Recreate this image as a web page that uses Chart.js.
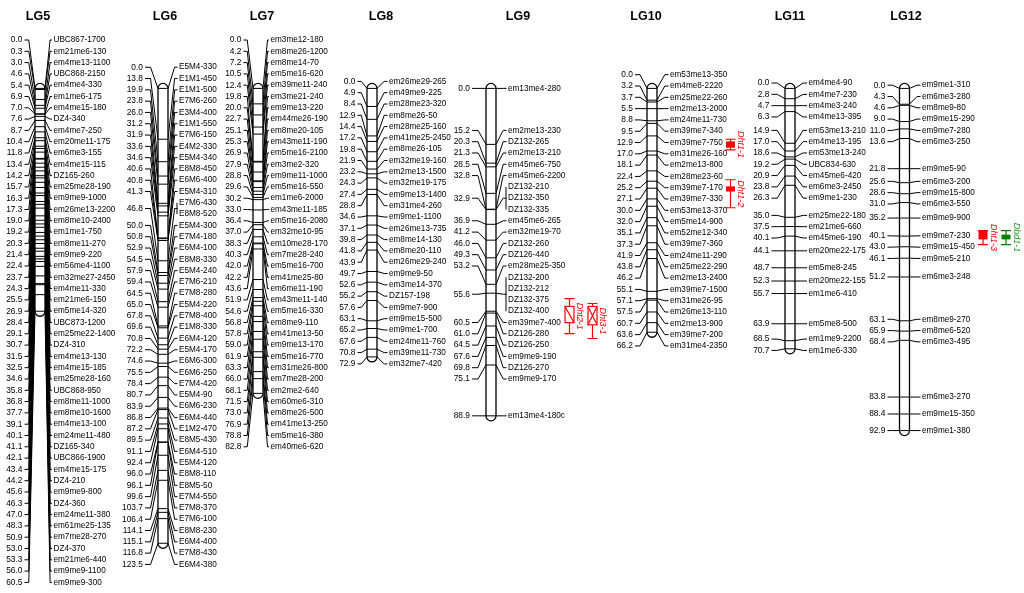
<!DOCTYPE html>
<html><head><meta charset="utf-8">
<script src="https://cdn.jsdelivr.net/npm/chart.js@4.4.1/dist/chart.umd.min.js"></script>
<style>html,body{margin:0;padding:0;background:#fff;}#wrap{width:1024px;height:593px;position:relative;}</style>
</head><body><div id="wrap"><canvas id="c"></canvas></div>
<script>
// ---------------- DATA ----------------
const groupNames = ['LG5','LG6','LG7','LG8','LG9','LG10','LG11','LG12'];

const lg5Pos = [0.0,0.3,3.0,4.6,5.4,6.9,7.0,7.6,8.7,10.4,11.8,13.4,14.2,15.7,16.3,17.3,19.0,19.2,20.3,21.4,22.4,23.7,24.3,25.5,26.9,28.4,29.1,30.7,31.5,32.5,34.6,35.8,36.8,37.7,39.1,40.1,41.1,42.1,43.4,44.2,45.6,46.3,47.0,48.3,50.9,53.0,53.3,56.0,60.5];
const lg5Names = ['UBC867-1700','em21me6-130','em4me13-1100','UBC868-2150','em4me4-330','em1me6-175','em4me15-180','DZ4-340','em4me7-250','em20me11-175','em6me3-155','em4me15-115','DZ165-260','em25me28-190','em9me9-1000','em26me13-2200','em8me10-2400','em1me1-750','em8me11-270','em9me9-220','em56me4-1100','em32me27-2450','em4me11-330','em21me6-150','em5me14-320','UBC873-1200','em25me22-1400','DZ4-310','em4me13-130','em4me15-185','em25me28-160','UBC868-950','em8me11-1000','em8me10-1600','em4me13-100','em24me11-480','DZ165-340','UBC866-1900','em4me15-175','DZ4-210','em9me9-800','DZ4-360','em24me11-380','em61me25-135','em7me28-270','DZ4-370','em21me6-440','em9me9-1100','em9me9-300'];

const lg6Pos = [0.0,13.8,19.9,23.8,26.0,31.2,31.9,33.6,34.6,40.6,40.8,41.3,46.8,46.8,50.0,50.8,52.9,54.5,57.9,59.4,64.5,65.0,67.8,69.6,70.8,72.2,74.6,75.5,78.4,80.7,83.9,86.8,87.2,89.5,91.1,92.4,96.0,96.1,99.6,103.7,106.4,114.1,115.1,116.8,123.5];
const lg6Names = ['E5M4-330','E1M1-450','E1M1-500','E7M6-260','E3M4-400','E1M1-550','E7M6-150','E4M2-330','E5M4-340','E8M8-450','E6M6-400','E5M4-310','E7M6-430','E8M8-520','E5M4-300','E7M4-180','E6M4-100','E8M8-330','E5M4-240','E7M6-210','E7M8-280','E5M4-220','E7M8-400','E1M8-330','E6M4-120','E5M4-170','E6M6-300','E6M6-250','E7M4-420','E5M4-90','E6M6-230','E6M4-440','E1M2-470','E8M5-430','E6M4-510','E5M4-120','E8M8-110','E8M5-50','E7M4-550','E7M8-370','E7M6-100','E8M8-230','E6M4-400','E7M8-430','E6M4-380'];

const lg7Pos = [0.0,4.2,7.2,10.5,12.4,19.8,20.0,22.7,25.1,25.3,26.9,27.9,28.8,29.6,30.2,33.0,36.4,37.0,38.3,40.3,42.0,42.2,43.6,51.9,54.6,56.8,57.8,59.0,61.9,63.3,66.0,68.1,71.5,73.0,76.9,78.8,82.8];
const lg7Names = ['em3me12-180','em8me26-1200','em8me14-70','em5me16-620','em39me11-240','em3me21-240','em9me13-220','em44me26-190','em8me20-105','em43me11-190','em5me16-2100','em3me2-320','em9me11-1000','em5me16-550','em1me6-2000','em43me11-185','em5me16-2080','em32me10-95','em10me28-170','em7me28-240','em5me16-700','em41me25-80','em6me11-190','em43me11-140','em5me16-330','em8me9-110','em41me13-50','em9me13-170','em5me16-770','em31me26-800','em7me28-200','em2me2-640','em60me6-310','em8me26-500','em41me13-250','em5me16-380','em40me6-620'];

const lg8Pos = [0.0,4.9,8.4,12.9,14.4,17.2,19.8,21.9,23.2,24.3,27.4,28.8,34.6,37.1,39.8,41.8,43.9,49.7,52.6,55.2,57.6,63.1,65.2,67.6,70.8,72.9];
const lg8Names = ['em26me29-265','em49me9-225','em28me23-320','em8me26-50','em28me25-160','em41me25-2450','em8me26-105','em32me19-160','em2me13-1500','em32me19-175','em9me13-1400','em31me4-260','em9me1-1100','em26me13-735','em8me14-130','em8me20-110','em26me29-240','em9me9-50','em3me14-370','DZ157-198','em9me7-900','em9me15-500','em9me1-700','em24me11-760','em39me11-730','em32me7-420'];

const lg9Pos = [0.0,15.2,20.3,21.3,28.5,32.8,32.9,32.9,32.9,36.9,41.2,46.0,49.3,53.2,55.6,55.6,55.6,55.6,60.5,61.0,64.5,67.6,69.8,75.1,88.9];
const lg9Names = ['em13me4-280','em2me13-230','DZ132-265','em2me13-210','em45me6-750','em45me6-2200','DZ132-210','DZ132-350','DZ132-335','em45me6-265','em32me19-70','DZ132-260','DZ126-440','em28me25-350','DZ132-200','DZ132-212','DZ132-375','DZ132-400','em39me7-400','DZ126-280','DZ126-250','em9me9-190','DZ126-270','em9me9-170','em13me4-180c'];

const lg10Pos = [0.0,3.2,3.7,5.5,8.8,9.5,12.9,17.0,18.1,22.4,25.2,27.1,30.0,32.0,35.1,37.3,41.9,43.8,46.2,55.1,57.1,57.5,60.7,63.6,66.2];
const lg10Names = ['em53me13-350','em4me8-2220','em25me22-260','em2me13-2000','em24me11-730','em39me7-340','em39me7-750','em31me26-160','em2me13-800','em28me23-60','em39me7-170','em39me7-330','em53me13-370','em5me14-900','em52me12-340','em39me7-360','em24me11-290','em25me22-290','em2me13-2400','em39me7-1500','em31me26-95','em26me13-110','em2me13-900','em39me7-200','em31me4-2350'];

const lg11Pos = [0.0,2.8,4.7,6.3,14.9,17.0,18.6,19.2,20.9,23.8,26.3,35.0,37.5,40.1,44.1,48.7,52.3,55.7,63.9,68.5,70.7];
const lg11Names = ['em4me4-90','em4me7-230','em4me3-240','em4me13-395','em53me13-210','em4me13-195','em53me13-240','UBC834-630','em45me6-420','em6me3-2450','em9me1-230','em25me22-180','em21me6-660','em45me6-190','em20me22-175','em5me8-245','em20me22-155','em1me6-410','em5me8-500','em1me9-2200','em1me6-330'];

const lg12Pos = [0.0,4.3,4.6,9.0,11.0,13.6,21.8,25.6,28.6,31.0,35.2,40.1,43.0,46.1,51.2,63.1,65.9,68.4,83.8,88.4,92.9];
const lg12Names = ['em9me1-310','em6me3-280','em8me9-80','em9me15-290','em9me7-280','em6me3-250','em9me5-90','em6me3-200','em9me15-800','em6me3-550','em9me9-900','em9me7-230','em9me15-450','em9me5-210','em6me3-248','em8me9-270','em8me6-520','em6me3-495','em6me3-270','em9me15-350','em9me1-380'];

const allPos = [lg5Pos,lg6Pos,lg7Pos,lg8Pos,lg9Pos,lg10Pos,lg11Pos,lg12Pos];
const allNames = [lg5Names,lg6Names,lg7Names,lg8Names,lg9Names,lg10Names,lg11Names,lg12Names];

// QTL intervals (cM)
const qtlNames   = ['Dht2-1','Dht3-1','Dht1-1','Dht1-2','Dht1-3','Dbd1-1'];
const qtlGroup   = ['LG9','LG9','LG10','LG10','LG12','LG12'];
const qtlLo      = [57.1, 58.4, 13.8, 24.8, 38.6, 38.6];
const qtlHi      = [66.6, 67.9, 16.7, 32.4, 42.4, 42.4];
const qtlBoxLo   = [59.2, 59.2, 14.4, 26.6, 38.6, 39.7];
const qtlBoxHi   = [63.6, 64.2, 16.1, 28.0, 41.0, 41.0];

// ---------------- LAYOUT / STYLE ----------------
const barX     = [40, 163, 258, 372, 491, 652, 790, 904.5];
const titleX   = [38, 165, 262, 381, 518, 646, 790, 906];
const leftGap  = [12.5, 15, 11.5, 11.5, 16, 14, 15.5, 14];
const rightGap = [8.5, 11, 7.5, 12, 12, 13, 13.5, 12.5];
const qtlColumn = [0, 1, 0, 0, 0, 1];
const qtlColOffset = [78.5, 101.5];
const qtlStyle = ['hatch','cross','solid','solid','solid','solid'];
const qtlColor = ['#ff0000','#ff0000','#ff0000','#ff0000','#ff0000','#008000'];
const qtlTextColor = ['#ff0000','#ff0000','#ff0000','#ff0000','#ff0000','#22a022'];
const SLOT = 11.3, TOPLIM = 40, BAR_W = 10;
const FONT = '"Liberation Sans", Arial, sans-serif';

function spread(ideal) {
  const cl = [];
  const place = c => {
    c.pos = (c.lo + c.hi) / 2 - (c.n - 1) * SLOT / 2;
    if (c.pos < TOPLIM) c.pos = TOPLIM;
  };
  for (let i = 0; i < ideal.length; i++) {
    const c = {n: 1, lo: ideal[i], hi: ideal[i]};
    place(c); cl.push(c);
    while (cl.length > 1) {
      const a = cl[cl.length - 2], b = cl[cl.length - 1];
      if (a.pos + a.n * SLOT > b.pos + 1e-6) {
        a.n += b.n; a.hi = b.hi; place(a); cl.pop();
      } else break;
    }
  }
  const out = [];
  cl.forEach(c => { for (let k = 0; k < c.n; k++) out.push(c.pos + k * SLOT); });
  return out;
}

const mapPlugin = {
  id: 'linkageMap',
  afterDatasetsDraw(chart) {
    const ctx = chart.ctx, xs = chart.scales.x, ys = chart.scales.y;
    ctx.save();
    groupNames.forEach((gname, g) => {
      const pos = allPos[g], names = allNames[g];
      const bx = xs.getPixelForValue(barX[g]);
      const bl = bx - BAR_W / 2, br = bx + BAR_W / 2;
      const ideal = pos.map(p => ys.getPixelForValue(p));
      const ly = spread(ideal);
      const loci = [];
      pos.forEach((p, i) => {
        if (i > 0 && p === pos[i - 1]) loci[loci.length - 1].idx.push(i);
        else loci.push({cm: p, idx: [i]});
      });
      const gl = leftGap[g], gr = rightGap[g];
      // connectors
      ctx.strokeStyle = '#000'; ctx.lineWidth = 1;
      loci.forEach(L => {
        const my = ys.getPixelForValue(L.cm);
        const first = ly[L.idx[0]], last = ly[L.idx[L.idx.length - 1]];
        const labY = (first + last) / 2;
        ctx.beginPath();
        ctx.moveTo(bl - gl + 2, labY);
        ctx.lineTo(bl - gl * 0.5, labY);
        ctx.lineTo(bl, my);
        ctx.stroke();
        ctx.beginPath();
        ctx.moveTo(br, my);
        ctx.lineTo(br + gr * 0.6, labY);
        ctx.lineTo(br + gr - 1.5, labY);
        ctx.stroke();
        if (L.idx.length > 1) {
          ctx.beginPath();
          ctx.moveTo(br + gr - 2, first);
          ctx.lineTo(br + gr - 2, last);
          ctx.stroke();
        }
      });
      // bar
      const y0 = ys.getPixelForValue(pos[0]) - 5;
      const y1 = ys.getPixelForValue(pos[pos.length - 1]) + 5;
      const r = BAR_W / 2;
      ctx.beginPath();
      ctx.moveTo(bl, y0 + r);
      ctx.arc(bx, y0 + r, r, Math.PI, 0);
      ctx.lineTo(br, y1 - r);
      ctx.arc(bx, y1 - r, r, 0, Math.PI);
      ctx.closePath();
      ctx.fillStyle = '#fff'; ctx.fill();
      ctx.lineWidth = 1.3; ctx.strokeStyle = '#000'; ctx.stroke();
      ctx.lineWidth = 1;
      loci.forEach(L => {
        const my = ys.getPixelForValue(L.cm);
        ctx.beginPath(); ctx.moveTo(bl, my); ctx.lineTo(br, my); ctx.stroke();
      });
      // texts
      ctx.fillStyle = '#000';
      ctx.font = '8.4px ' + FONT;
      ctx.textBaseline = 'middle';
      loci.forEach(L => {
        const first = ly[L.idx[0]], last = ly[L.idx[L.idx.length - 1]];
        ctx.textAlign = 'right';
        ctx.fillText(L.cm.toFixed(1), bl - gl, (first + last) / 2);
      });
      ctx.textAlign = 'left';
      ctx.font = '8.2px ' + FONT;
      names.forEach((n, i) => ctx.fillText(n, br + gr, ly[i]));
      // title
      ctx.font = 'bold 12.5px ' + FONT;
      ctx.textAlign = 'center';
      ctx.fillText(gname, xs.getPixelForValue(titleX[g]), 17);
    });
    // QTLs
    qtlNames.forEach((q, k) => {
      const g = groupNames.indexOf(qtlGroup[k]);
      const cx = xs.getPixelForValue(barX[g] + qtlColOffset[qtlColumn[k]]);
      const wy0 = ys.getPixelForValue(qtlLo[k]), wy1 = ys.getPixelForValue(qtlHi[k]);
      const by0 = ys.getPixelForValue(qtlBoxLo[k]), by1 = ys.getPixelForValue(qtlBoxHi[k]);
      const col = qtlColor[k];
      ctx.strokeStyle = col; ctx.lineWidth = 1.2;
      ctx.beginPath();
      ctx.moveTo(cx, wy0); ctx.lineTo(cx, wy1);
      ctx.moveTo(cx - 5, wy0); ctx.lineTo(cx + 5, wy0);
      ctx.moveTo(cx - 5, wy1); ctx.lineTo(cx + 5, wy1);
      ctx.stroke();
      const hw = 4.5;
      if (qtlStyle[k] === 'solid') {
        ctx.fillStyle = col; ctx.fillRect(cx - hw, by0, hw * 2, by1 - by0);
      } else {
        ctx.fillStyle = '#fff'; ctx.fillRect(cx - hw, by0, hw * 2, by1 - by0);
        ctx.strokeRect(cx - hw, by0, hw * 2, by1 - by0);
        ctx.beginPath();
        ctx.moveTo(cx - hw, by0); ctx.lineTo(cx + hw, by1);
        if (qtlStyle[k] === 'cross') { ctx.moveTo(cx + hw, by0); ctx.lineTo(cx - hw, by1); }
        ctx.stroke();
      }
      ctx.save();
      ctx.translate(cx + 10, (wy0 + wy1) / 2);
      ctx.rotate(Math.PI / 2);
      ctx.fillStyle = qtlTextColor[k];
      ctx.font = 'italic 9px ' + FONT;
      ctx.textAlign = 'center'; ctx.textBaseline = 'middle';
      ctx.fillText(q, 0, 0);
      ctx.restore();
    });
    ctx.restore();
  }
};

const datasets = groupNames.map((gname, g) => ({
  label: gname,
  data: allPos[g].map(p => ({x: barX[g], y: p})),
  pointRadius: 0, showLine: false
}));

new Chart(document.getElementById('c'), {
  type: 'scatter',
  data: {datasets},
  options: {
    responsive: true, maintainAspectRatio: false, animation: false,
    layout: {padding: 0},
    plugins: {legend: {display: false}, tooltip: {enabled: false}},
    scales: {
      x: {type: 'linear', min: 0, max: 1024, display: false},
      y: {type: 'linear', reverse: true, min: -24, max: 137, display: false}
    }
  },
  plugins: [mapPlugin]
});
</script>
</body></html>
